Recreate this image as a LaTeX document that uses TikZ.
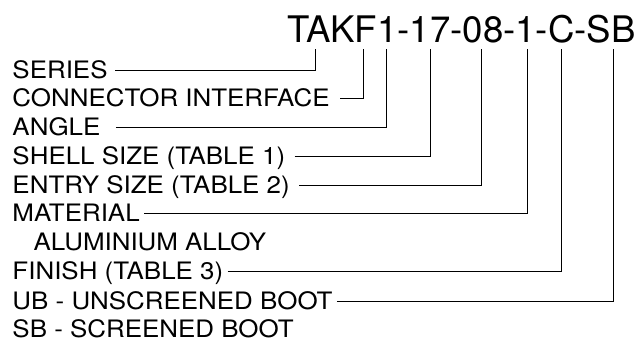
\documentclass[tikz,border=0pt]{standalone}
\usepackage{fontspec}
\setmainfont{TeX Gyre Heros}
\newfontfamily\lblfont[FakeStretch=1.08]{TeX Gyre Heros}
\tikzset{lbl/.style = {anchor=west, inner sep=0pt, text height=17.2pt, text depth=0pt,
    font=\lblfont\fontsize{24}{26}\selectfont}}

\begin{document}
\begin{tikzpicture}[x=1pt, y=-1pt, line width=1pt]
  \useasboundingbox (0,0) rectangle (637,340);
  \node[anchor=base east, inner sep=0pt, font=\fontsize{36.6}{40}\selectfont]
    (code) at (636,42) {TAKF1-17-08-1-C-SB};
  % tops of the leader lines, under the code
  \coordinate (tseries) at (315,49);
  \coordinate (tiface) at (363,49);
  \coordinate (tangle) at (386,49);
  \coordinate (tshell) at (430,49);
  \coordinate (tentry) at (481,49);
  \coordinate (tmat) at (527,49);
  \coordinate (tfinish) at (561,49);
  \coordinate (tboot) at (613,49);
  \node[lbl] (series) at (12,70) {SERIES};
  \node[lbl] (iface) at (12,98) {CONNECTOR INTERFACE};
  \node[lbl] (angle) at (12,127) {ANGLE};
  \node[lbl] (shell) at (12,156) {SHELL SIZE (TABLE 1)};
  \node[lbl] (entry) at (12,185) {ENTRY SIZE (TABLE 2)};
  \node[lbl] (mat) at (12,213) {MATERIAL};
  \node[lbl] (alloy) at (33,242) {ALUMINIUM ALLOY};
  \node[lbl] (finish) at (12,271) {FINISH (TABLE 3)};
  \node[lbl] (ub) at (12,301) {UB - UNSCREENED BOOT};
  \node[lbl] (sb) at (12,329) {SB - SCREENED BOOT};
  \draw ([xshift=7pt]series.east) -| (tseries);
  \draw ([xshift=10pt]iface.east) -| (tiface);
  \draw ([xshift=15pt]angle.east) -| (tangle);
  \draw ([xshift=9pt]shell.east) -| (tshell);
  \draw ([xshift=9pt]entry.east) -| (tentry);
  \draw ([xshift=4pt]mat.east) -| (tmat);
  \draw ([xshift=4pt]finish.east) -| (tfinish);
  \draw ([xshift=4pt]ub.east) -| (tboot);
\end{tikzpicture}
\end{document}
